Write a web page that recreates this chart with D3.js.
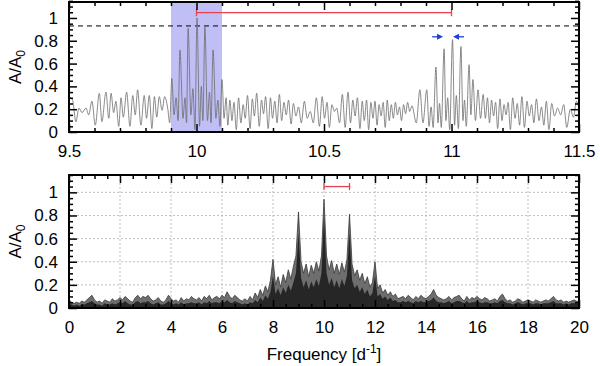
<!DOCTYPE html>
<html><head><meta charset="utf-8">
<script src="https://cdn.jsdelivr.net/npm/d3@7"></script>
<style>body{margin:0;background:#fff}svg{display:block;font-family:"Liberation Sans",Arial,sans-serif}</style>
</head><body><svg id="c" width="600" height="366"></svg>
<script>
// ---------- DATA ----------
const topFreq = [9.500,9.514,9.527,9.539,9.551,9.567,9.577,9.590,9.603,9.619,9.629,9.645,9.656,9.665,9.675,9.684,9.695,9.704,9.713,9.726,9.739,9.750,9.760,9.769,9.782,9.795,9.804,9.815,9.825,9.835,9.844,9.854,9.865,9.875,9.887,9.895,
 9.903,9.912,9.920,9.928,9.935,9.947,9.955,9.961,9.967,9.978,9.986,9.994,10.002,10.012,10.019,10.025,10.033,10.043,10.051,10.057,10.065,10.076,10.084,10.092,10.100,
 10.108,10.116,10.123,10.131,10.139,10.147,10.156,10.165,10.174,10.183,10.191,10.200,10.210,10.219,10.227,10.236,10.246,10.255,10.263,10.271,10.281,10.290,10.298,10.307,10.316,10.325,10.334,10.343,10.352,10.361,10.371,10.380,10.390,10.400,10.411,10.423,10.434,10.446,10.458,10.470,10.482,10.493,10.502,10.512,10.521,10.531,10.541,10.550,10.561,10.572,10.583,10.594,10.604,10.613,10.622,10.631,10.641,10.650,10.658,10.667,10.675,10.684,10.692,10.700,10.708,10.716,10.724,10.732,10.740,10.748,10.756,10.764,10.772,10.780,10.788,10.796,10.804,10.812,10.820,10.828,10.836,10.845,
 10.862,10.876,10.888,10.903,10.912,10.920,10.928,10.939,10.947,10.953,10.960,10.971,10.978,10.985,10.993,11.004,11.012,11.019,11.027,11.037,11.045,11.051,11.058,11.069,11.076,11.084,11.094,11.104,11.114,11.124,
 11.133,11.141,11.149,11.157,11.165,11.173,11.181,11.190,11.198,11.206,11.214,11.222,11.231,11.240,11.249,11.258,11.267,11.276,11.286,11.296,11.305,11.314,11.323,11.333,11.343,11.353,11.362,11.372,11.382,11.393,11.404,11.416,11.428,11.440,11.452,11.466,11.478,11.490,11.500];
const topAmp = [0.31,0.28,0.09,0.21,0.17,0.21,0.15,0.27,0.06,0.34,0.09,0.35,0.12,0.34,0.17,0.27,0.05,0.30,0.13,0.35,0.05,0.32,0.15,0.37,0.06,0.32,0.12,0.32,0.03,0.31,0.13,0.31,0.19,0.31,0.21,0.08,
 0.47,0.15,0.30,0.10,0.72,0.12,0.30,0.08,0.91,0.15,0.38,0.02,1.00,0.05,0.40,0.10,0.92,0.10,0.35,0.08,0.72,0.12,0.28,0.05,0.46,
 0.12,0.30,0.06,0.28,0.10,0.26,0.02,0.30,0.08,0.24,0.12,0.32,0.03,0.29,0.14,0.34,0.05,0.28,0.16,0.31,0.03,0.30,0.12,0.27,0.08,0.33,0.10,0.26,0.15,0.28,0.07,0.25,0.14,0.22,0.08,0.27,0.12,0.18,0.08,0.30,0.05,0.31,0.12,0.26,0.04,0.24,0.18,0.21,0.08,0.33,0.04,0.35,0.08,0.28,0.14,0.30,0.03,0.27,0.10,0.28,0.02,0.26,0.12,0.27,0.06,0.24,0.14,0.26,0.04,0.28,0.10,0.24,0.12,0.26,0.15,0.22,0.10,0.24,0.16,0.26,0.18,0.23,
 0.08,0.37,0.08,0.37,0.05,0.22,0.04,0.57,0.08,0.25,0.04,0.73,0.10,0.30,0.02,0.81,0.06,0.32,0.03,0.75,0.10,0.28,0.05,0.59,0.15,0.46,0.10,0.37,0.12,0.33,
 0.12,0.30,0.08,0.28,0.14,0.26,0.03,0.29,0.10,0.24,0.15,0.26,0.02,0.30,0.12,0.25,0.06,0.31,0.04,0.27,0.14,0.24,0.08,0.29,0.10,0.22,0.06,0.27,0.02,0.25,0.14,0.21,0.15,0.24,0.04,0.20,0.13,0.27,0.20];

const bandLo = 9.9, bandHi = 10.1;        // shaded window
const threshold = 0.93;                   // dashed level
const topBar = {f0: 10.0, f1: 11.0, a: 1.046};
const arrowsY = 0.835;
const arrowRight = [10.924, 10.967];
const arrowLeft = [11.049, 11.006];

const topXTicks = [9.5, 10, 10.5, 11, 11.5];
const yTicks = [0, 0.2, 0.4, 0.6, 0.8, 1];
const botXTicks = [0, 2, 4, 6, 8, 10, 12, 14, 16, 18, 20];

// bottom panel: upper envelope and dense core, sampled every 0.1 d^-1 from 0 to 20
const botHi = [0.06,0.05,0.04,0.05,0.04,0.06,0.05,0.07,0.09,0.11,
 0.07,0.05,0.06,0.04,0.07,0.06,0.05,0.08,0.06,0.07,
 0.09,0.07,0.10,0.08,0.06,0.05,0.09,0.11,0.08,0.10,
 0.09,0.11,0.08,0.06,0.07,0.09,0.06,0.05,0.07,0.11,
 0.08,0.06,0.07,0.05,0.09,0.06,0.08,0.07,0.10,0.08,
 0.07,0.09,0.06,0.10,0.08,0.11,0.07,0.09,0.10,0.08,
 0.11,0.09,0.14,0.10,0.08,0.11,0.09,0.07,0.06,0.08,
 0.06,0.10,0.07,0.13,0.09,0.16,0.11,0.19,0.14,0.24,
 0.42,0.20,0.27,0.18,0.29,0.22,0.33,0.25,0.36,0.45,
 0.83,0.40,0.30,0.38,0.27,0.37,0.30,0.40,0.32,0.45,
 0.94,0.45,0.33,0.41,0.30,0.38,0.29,0.39,0.31,0.42,
 0.81,0.38,0.28,0.33,0.24,0.30,0.21,0.27,0.18,0.22,
 0.40,0.17,0.20,0.13,0.16,0.11,0.14,0.10,0.12,0.08,
 0.09,0.10,0.08,0.11,0.09,0.07,0.10,0.08,0.11,0.09,
 0.08,0.10,0.12,0.16,0.11,0.09,0.08,0.07,0.08,0.10,
 0.07,0.09,0.10,0.11,0.08,0.06,0.10,0.07,0.09,0.08,
 0.10,0.08,0.07,0.09,0.08,0.06,0.07,0.08,0.06,0.10,
 0.12,0.08,0.06,0.07,0.05,0.06,0.08,0.07,0.05,0.06,
 0.07,0.06,0.05,0.07,0.06,0.05,0.06,0.07,0.06,0.08,
 0.10,0.07,0.06,0.07,0.05,0.06,0.05,0.06,0.07,0.06,
 0.05];
const botMid = [0.03,0.03,0.02,0.03,0.02,0.03,0.03,0.04,0.05,0.06,
 0.04,0.03,0.03,0.02,0.04,0.03,0.03,0.04,0.03,0.04,
 0.05,0.04,0.06,0.04,0.03,0.03,0.05,0.06,0.04,0.05,
 0.05,0.06,0.04,0.03,0.04,0.05,0.03,0.03,0.04,0.06,
 0.04,0.03,0.04,0.03,0.05,0.03,0.04,0.04,0.05,0.04,
 0.04,0.05,0.03,0.05,0.04,0.06,0.04,0.05,0.05,0.04,
 0.06,0.05,0.07,0.05,0.04,0.06,0.05,0.04,0.03,0.04,
 0.03,0.05,0.04,0.07,0.05,0.09,0.06,0.11,0.08,0.14,
 0.28,0.12,0.17,0.11,0.18,0.13,0.20,0.15,0.22,0.30,
 0.65,0.26,0.18,0.24,0.16,0.23,0.18,0.25,0.19,0.30,
 0.80,0.30,0.20,0.26,0.18,0.24,0.17,0.25,0.19,0.28,
 0.65,0.24,0.17,0.20,0.14,0.18,0.12,0.16,0.10,0.13,
 0.28,0.10,0.12,0.08,0.10,0.07,0.09,0.06,0.07,0.05,
 0.05,0.06,0.05,0.06,0.05,0.04,0.06,0.05,0.06,0.05,
 0.05,0.06,0.07,0.09,0.06,0.05,0.05,0.04,0.05,0.06,
 0.04,0.05,0.06,0.06,0.05,0.04,0.06,0.04,0.05,0.05,
 0.06,0.05,0.04,0.05,0.05,0.04,0.04,0.05,0.04,0.06,
 0.07,0.05,0.04,0.04,0.03,0.04,0.05,0.04,0.03,0.04,
 0.04,0.04,0.03,0.04,0.04,0.03,0.04,0.04,0.04,0.05,
 0.06,0.04,0.04,0.04,0.03,0.04,0.03,0.04,0.04,0.04,
 0.03];
const botStep = 0.1;
const botBar = {f0: 10.0, f1: 11.0, a: 1.05};

// ---------- DRAW ----------
const svg = d3.select("#c");
const L = 69, R = 579;
const FS = 17;

function panel(cfg) {
  const g = svg.append("g");
  const x = d3.scaleLinear().domain(cfg.xDom).range([L, R]);
  const y = d3.scaleLinear().domain([0, cfg.yMax]).range([cfg.y0, cfg.y1]);
  cfg.draw(g, x, y);
  const mk = (axis, tr) => {
    const a = g.append("g").attr("transform", tr).call(axis);
    a.select(".domain").remove();
    a.selectAll("line").attr("stroke", "#000").attr("stroke-width", 1.5);
    a.selectAll("text").attr("font-size", FS).attr("fill", "#000").attr("font-family", '"Liberation Sans",Arial,sans-serif');
    return a;
  };
  const fmt = cfg.xFmt;
  mk(d3.axisBottom(x).tickValues(cfg.xMajor).tickSizeInner(-8).tickSizeOuter(0).tickPadding(13).tickFormat(fmt), `translate(0,${cfg.y0})`);
  mk(d3.axisBottom(x).tickValues(cfg.xMinor).tickSizeInner(-4).tickSizeOuter(0).tickFormat(""), `translate(0,${cfg.y0})`);
  mk(d3.axisTop(x).tickValues(cfg.xMajor).tickSizeInner(-8).tickSizeOuter(0).tickFormat(""), `translate(0,${cfg.y1})`);
  mk(d3.axisTop(x).tickValues(cfg.xMinor).tickSizeInner(-4).tickSizeOuter(0).tickFormat(""), `translate(0,${cfg.y1})`);
  mk(d3.axisLeft(y).tickValues(yTicks).tickSizeInner(-8).tickSizeOuter(0).tickPadding(11).tickFormat(d3.format("~g")), `translate(${L},0)`);
  mk(d3.axisLeft(y).tickValues(cfg.yMinor).tickSizeInner(-4).tickSizeOuter(0).tickFormat(""), `translate(${L},0)`);
  mk(d3.axisRight(y).tickValues(yTicks).tickSizeInner(-8).tickSizeOuter(0).tickFormat(""), `translate(${R},0)`);
  mk(d3.axisRight(y).tickValues(cfg.yMinor).tickSizeInner(-4).tickSizeOuter(0).tickFormat(""), `translate(${R},0)`);
  g.append("rect").attr("x", L).attr("y", cfg.y1).attr("width", R - L).attr("height", cfg.y0 - cfg.y1)
    .attr("fill", "none").attr("stroke", "#000").attr("stroke-width", 2);
  const yl = g.append("text").attr("transform", `translate(21,${(cfg.y0 + cfg.y1) / 2}) rotate(-90)`)
    .attr("text-anchor", "middle").attr("font-size", FS);
  yl.append("tspan").text("A/A");
  yl.append("tspan").attr("font-size", 12).attr("dy", 4).text("0");
  return {x, y};
}

function errBar(g, x, y, b) {
  const yy = y(b.a);
  g.append("line").attr("x1", x(b.f0)).attr("x2", x(b.f1)).attr("y1", yy).attr("y2", yy)
    .attr("stroke", "#e8404e").attr("stroke-width", 1.3);
  [b.f0, b.f1].forEach(f => g.append("line").attr("x1", x(f)).attr("x2", x(f)).attr("y1", yy - 3.5).attr("y2", yy + 3.5)
    .attr("stroke", "#e8404e").attr("stroke-width", 1.3));
}

const minorY = d3.range(0, 1.1501, 0.05).filter(v => Math.abs(v * 5 - Math.round(v * 5)) > 1e-6);

// top panel
panel({
  xDom: [9.5, 11.5], yMax: 1.14, y0: 132, y1: 2,
  xMajor: topXTicks, xMinor: d3.range(9.5, 11.5001, 0.1).map(v => +v.toFixed(2)).filter(v => !topXTicks.includes(v)),
  yMinor: minorY, xFmt: d3.format("~g"),
  draw: (g, x, y) => {
    g.append("rect").attr("x", x(bandLo)).attr("y", 2).attr("width", x(bandHi) - x(bandLo)).attr("height", 130)
      .attr("fill", "#bfbff6");
    g.append("line").attr("x1", L).attr("x2", R).attr("y1", y(threshold)).attr("y2", y(threshold))
      .attr("stroke", "#000").attr("stroke-width", 1).attr("stroke-dasharray", "5,4");
    const line = d3.line().x((d, i) => x(topFreq[i])).y((d, i) => y(topAmp[i])).curve(d3.curveMonotoneX);
    g.append("path").datum(topAmp).attr("d", line).attr("fill", "none").attr("stroke", "#6c6c6c").attr("stroke-width", 0.8);
    errBar(g, x, y, topBar);
    const blue = "#1f3fd6";
    const arrow = (fr) => {
      const ya = y(arrowsY), xa = x(fr[0]), xb = x(fr[1]);
      const dir = Math.sign(xb - xa);
      g.append("line").attr("x1", xa).attr("x2", xb - dir * 4).attr("y1", ya).attr("y2", ya).attr("stroke", blue).attr("stroke-width", 1.3);
      g.append("path").attr("d", `M${xb},${ya}L${xb - dir * 6},${ya - 3}L${xb - dir * 6},${ya + 3}Z`).attr("fill", blue);
    };
    arrow(arrowRight); arrow(arrowLeft);
  }
});

// bottom panel
panel({
  xDom: [0, 20], yMax: 1.15, y0: 308, y1: 175,
  xMajor: botXTicks, xMinor: d3.range(0, 20.001, 0.5).filter(v => !botXTicks.includes(v)),
  yMinor: minorY, xFmt: d3.format("~g"),
  draw: (g, x, y) => {
    const grid = g.append("g").attr("stroke", "#b0b0b0").attr("stroke-width", 0.8).attr("stroke-dasharray", "2,2");
    botXTicks.slice(1, -1).forEach(t => grid.append("line").attr("x1", x(t)).attr("x2", x(t)).attr("y1", 175).attr("y2", 308));
    yTicks.slice(1).forEach(t => grid.append("line").attr("x1", L).attr("x2", R).attr("y1", y(t)).attr("y2", y(t)));
    const fx = (d, i) => x(i * botStep);
    const areaHi = d3.area().x(fx).y0(y(0)).y1(d => y(d));
    g.append("path").datum(botHi).attr("d", areaHi).attr("fill", "#6e6e6e");
    g.append("path").datum(botMid).attr("d", areaHi).attr("fill", "#262626");
    g.append("path").datum(botHi).attr("d", d3.line().x(fx).y(d => y(d))).attr("fill", "none").attr("stroke", "#3a3a3a").attr("stroke-width", 0.8);
    errBar(g, x, y, botBar);
  }
});

const xl = svg.append("text").attr("x", 324).attr("y", 360).attr("text-anchor", "middle").attr("font-size", FS);
xl.append("tspan").text("Frequency [d");
xl.append("tspan").attr("font-size", 12).attr("dy", -7).text("-1");
xl.append("tspan").attr("dy", 7).text("]");
</script>
</body></html>
